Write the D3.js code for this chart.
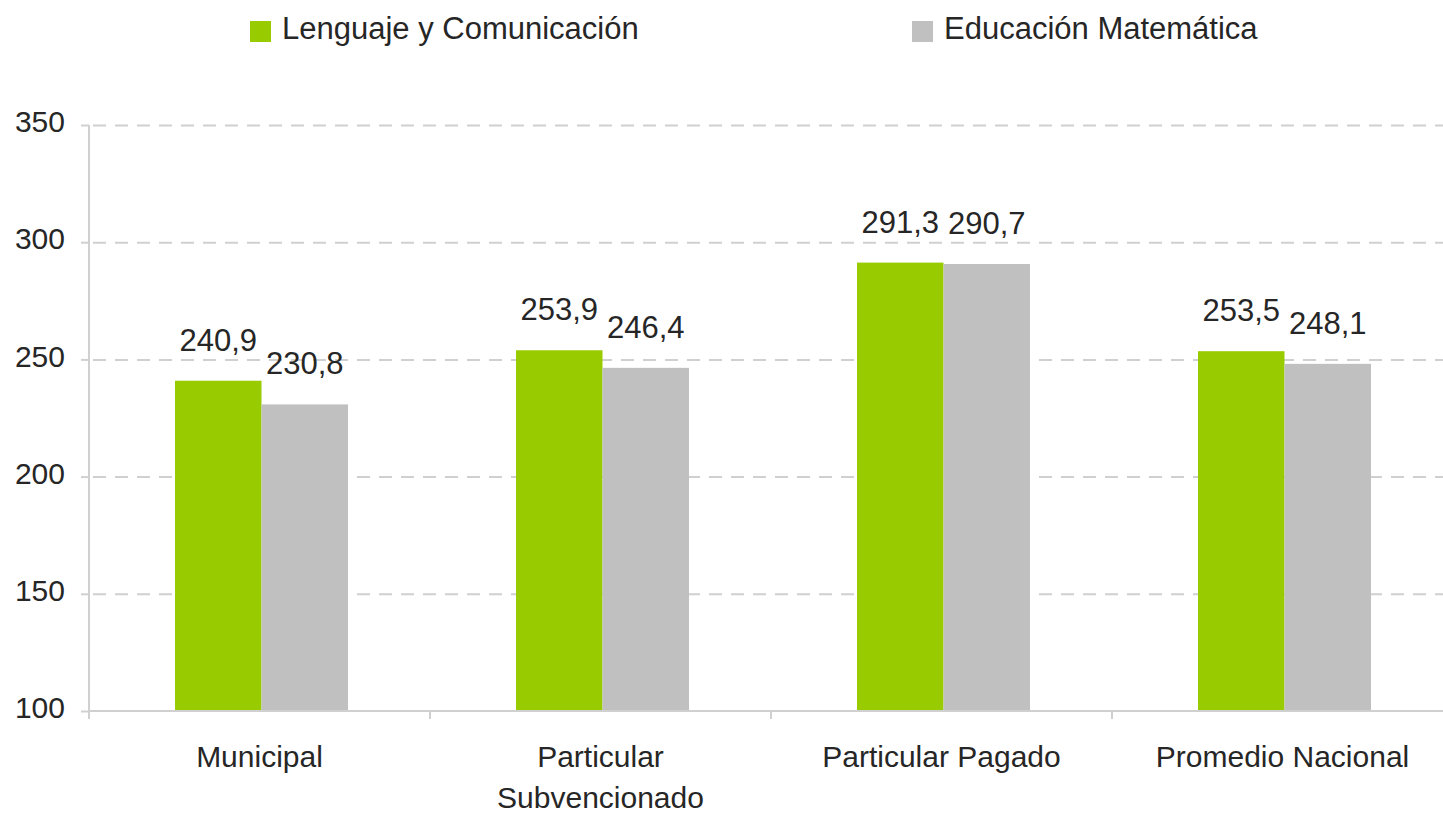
<!DOCTYPE html>
<html>
<head>
<meta charset="utf-8">
<script src="https://cdn.jsdelivr.net/npm/d3@7"></script>
<style>
  body { margin: 0; background: #fff; }
  text { font-family: "Liberation Sans", Arial, sans-serif; fill: #262626; }
</style>
</head>
<body>
<script>
var canvasWidth = 1443;
var canvasHeight = 814;

var categories = ["Municipal", "Particular Subvencionado", "Particular Pagado", "Promedio Nacional"];
var seriesNames = ["Lenguaje y Comunicación", "Educación Matemática"];
var lenguaje = [240.9, 253.9, 291.3, 253.5];
var matematica = [230.8, 246.4, 290.7, 248.1];
var seriesColors = ["#99cc00", "#c0c0c0"];
var yTicks = [100, 150, 200, 250, 300, 350];

var margin = {top: 125, left: 89, bottom: 103};
var plotWidth = 4 * 341;
var plotHeight = canvasHeight - margin.top - margin.bottom;

var rows = categories.map(function(c, i) {
    return {cat: c, values: [lenguaje[i], matematica[i]]};
});

var svg = d3.select("body")
            .append("svg")
            .attr("width", canvasWidth)
            .attr("height", canvasHeight);

var g = svg.append("g").attr("transform", "translate(" + margin.left + "," + margin.top + ")");

var x0 = d3.scaleBand().domain(categories).range([0, plotWidth]);
var x1 = d3.scaleBand().domain([0, 1]).range([86, 259]);
var y = d3.scaleLinear().domain([100, 350]).range([plotHeight, 0]);

// dashed gridlines
g.append("g")
    .selectAll("line")
    .data(yTicks.filter(t => t > 100))
    .enter()
    .append("line")
    .attr("x1", 0)
    .attr("x2", plotWidth)
    .attr("y1", d => y(d) + 0.5)
    .attr("y2", d => y(d) + 0.5)
    .attr("stroke", "#d0d0d0")
    .attr("stroke-width", 2)
    .attr("stroke-dasharray", "13,9")
    .attr("stroke-dashoffset", -4);

// y axis
var yAxis = g.append("g")
    .call(d3.axisLeft(y).tickValues(yTicks).tickSize(8).tickPadding(16).tickFormat(d3.format("d")));
yAxis.select(".domain").attr("stroke", "#d0d0d0").attr("stroke-width", 2)
    .attr("d", "M0," + (plotHeight + 8) + "V0");
yAxis.selectAll(".tick line").attr("stroke", "#d0d0d0").attr("stroke-width", 2);
yAxis.selectAll(".tick text").attr("font-size", "30px").attr("dy", "0.22em")
    .style("font-family", "'Liberation Sans', Arial, sans-serif").attr("fill", "#262626");

// bars
var groups = g.selectAll(".cat")
    .data(rows)
    .enter()
    .append("g")
    .attr("class", "cat")
    .attr("transform", d => "translate(" + x0(d.cat) + ",0)");

groups.selectAll("rect")
    .data(d => d.values.map((v, i) => ({i: i, v: v})))
    .enter()
    .append("rect")
    .attr("x", d => x1(d.i))
    .attr("width", x1.bandwidth())
    .attr("y", d => y(d.v))
    .attr("height", d => plotHeight - y(d.v))
    .attr("fill", d => seriesColors[d.i]);

groups.selectAll(".val")
    .data(d => d.values.map((v, i) => ({i: i, v: v})))
    .enter()
    .append("text")
    .attr("class", "val")
    .attr("x", d => x1(d.i) + x1.bandwidth() / 2)
    .attr("y", d => y(d.v) - 30)
    .attr("text-anchor", "middle")
    .attr("font-size", "31px")
    .text(d => d3.format(".1f")(d.v).replace(".", ","));

// x axis
var xAxis = g.append("g")
    .attr("transform", "translate(0," + plotHeight + ")");
xAxis.append("line")
    .attr("x1", 0).attr("x2", plotWidth)
    .attr("stroke", "#d0d0d0").attr("stroke-width", 2);
xAxis.selectAll(".sep")
    .data(categories.slice(1))
    .enter()
    .append("line")
    .attr("class", "sep")
    .attr("x1", d => x0(d)).attr("x2", d => x0(d))
    .attr("y1", 0).attr("y2", 8)
    .attr("stroke", "#d0d0d0").attr("stroke-width", 2);

var xLabels = xAxis.selectAll(".xl")
    .data(categories)
    .enter()
    .append("text")
    .attr("class", "xl")
    .attr("x", d => x0(d) + x0.bandwidth() / 2)
    .attr("y", 56)
    .attr("text-anchor", "middle")
    .attr("font-size", "30px")
    .text(d => d);

function wrap(texts, width) {
    texts.each(function() {
        var text = d3.select(this);
        var words = text.text().split(/\s+/);
        var xPos = text.attr("x");
        var line = [];
        var tspan = text.text(null).append("tspan").attr("x", xPos);
        words.forEach(function(w) {
            line.push(w);
            tspan.text(line.join(" "));
            if (tspan.node().getComputedTextLength() > width && line.length > 1) {
                line.pop();
                tspan.text(line.join(" "));
                line = [w];
                tspan = text.append("tspan").attr("x", xPos).attr("dy", "1.37em").text(w);
            }
        });
    });
}
xLabels.call(wrap, 290);

// legend
var legendX = [250, 912];
var legend = svg.selectAll(".legend")
    .data(seriesNames)
    .enter()
    .append("g")
    .attr("class", "legend")
    .attr("transform", (d, i) => "translate(" + legendX[i] + ",21)");

legend.append("rect")
    .attr("width", 21)
    .attr("height", 21)
    .attr("fill", (d, i) => seriesColors[i]);

legend.append("text")
    .attr("x", 32)
    .attr("y", 18)
    .attr("font-size", "31px")
    .text(d => d);
</script>
</body>
</html>
